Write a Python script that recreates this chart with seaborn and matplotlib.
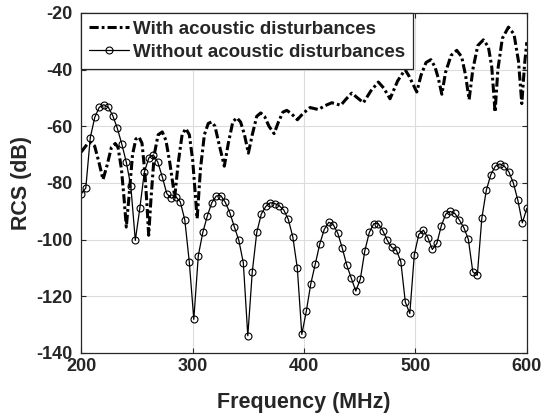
import numpy as np
import pandas as pd
import matplotlib
matplotlib.use("Agg")
import matplotlib.pyplot as plt
import seaborn as sns

# ---------------- data ----------------
# Series 1: with acoustic disturbances (dash-dot line)
dash_freq = [200, 203, 206, 209, 212, 216, 219.5, 223, 227, 230.5, 233, 236, 238.5, 240.4,
             243, 246, 249, 251.8, 254.5, 257, 259, 260.5, 262.5, 265.5, 269, 272.7, 276,
             279.5, 283.9, 287, 290.5, 293.8, 297, 300, 304, 307, 310.5, 314, 317.1, 320,
             323.5, 328.4, 332, 336, 339.6, 343, 346.5, 350, 353.5, 357.5, 361.1, 364.5,
             368.5, 373.1, 377, 381, 384.5, 388.5, 394, 399, 405.4, 412.8, 418.5, 424.9,
             433, 437.5, 442.8, 448, 453.3, 460, 466.7, 471.5, 477.2, 484, 490.7, 494.5,
             501.2, 505, 509.5, 513.8, 517.5, 520.5, 523.7, 527, 532, 537.1, 541.5, 545,
             548.2, 551.5, 556, 561, 565.5, 568.5, 571.5, 574, 578, 583.5, 588.5, 592.5,
             595.5, 598, 600]
dash_rcs = [-69.1, -67.5, -66.0, -65.8, -67.0, -73.0, -78.8, -74.0, -67.5, -66.1, -67.5, -75.0,
            -86.0, -95.6, -84.0, -70.0, -64.5, -63.8, -66.0, -76.0, -88.0, -98.5, -86.0, -70.0,
            -63.0, -62.0, -65.0, -73.0, -85.0, -73.0, -63.0, -60.8, -63.0, -72.0, -92.6, -75.0,
            -63.0, -59.0, -58.5, -60.0, -66.0, -74.1, -66.0, -58.5, -57.0, -58.5, -63.0, -69.5,
            -63.0, -56.5, -55.3, -56.5, -60.0, -62.6, -58.5, -55.0, -54.4, -55.5, -57.7, -55.5,
            -53.4, -54.1, -52.8, -51.7, -52.6, -50.5, -48.3, -50.0, -51.7, -47.5, -44.4, -46.5,
            -50.3, -44.0, -40.0, -42.5, -47.9, -42.0, -37.5, -36.5, -39.0, -43.0, -48.7, -41.0,
            -35.0, -33.2, -35.5, -42.0, -50.6, -40.0, -31.5, -29.5, -32.0, -39.0, -55.0, -40.0,
            -29.0, -25.0, -27.5, -37.0, -52.0, -38.0, -30.3]

# Series 2: without acoustic disturbances (circle markers), 100 samples 200..600 MHz
marker_rcs = [-83.9, -81.8, -64.0, -56.8, -53.3, -52.4, -53.3, -56.3, -60.7, -66.3,
              -72.7, -81.1, -100.3, -89.0, -76.3, -71.2, -70.1, -72.7, -77.9, -83.8,
              -85.4, -84.9, -86.7, -93.1, -108.0, -128.2, -105.7, -97.5, -91.7, -87.0,
              -84.6, -84.5, -86.9, -90.5, -95.5, -100.3, -108.2, -134.0, -111.3, -97.4,
              -91.0, -88.3, -87.0, -87.3, -88.1, -89.6, -92.9, -99.1, -110.1, -133.5,
              -125.3, -115.6, -108.6, -101.5, -96.4, -93.9, -94.8, -97.8, -103.1, -109.1,
              -113.7, -118.2, -114.0, -104.0, -97.5, -94.4, -94.4, -96.9, -100.3, -102.8,
              -103.7, -107.8, -122.1, -126.1, -105.3, -98.2, -96.7, -99.3, -103.5, -101.4,
              -95.1, -91.0, -90.1, -90.8, -93.1, -95.8, -99.9, -111.4, -112.6, -92.5,
              -82.6, -77.1, -74.1, -73.3, -74.1, -76.1, -80.0, -86.1, -94.1, -89.0]
marker_freq = np.linspace(200, 600, len(marker_rcs))

x_ticks = [200, 300, 400, 500, 600]
y_ticks = [-140, -120, -100, -80, -60, -40, -20]
label_with = "With acoustic disturbances"
label_without = "Without acoustic disturbances"

df_dash = pd.DataFrame({"Frequency": dash_freq, "RCS": dash_rcs})
df_mark = pd.DataFrame({"Frequency": marker_freq, "RCS": marker_rcs})

# ---------------- style ----------------
sns.set_style("ticks")
plt.rcParams["font.family"] = ["Liberation Sans", "DejaVu Sans"]
plt.rcParams["font.weight"] = "bold"
plt.rcParams["axes.labelweight"] = "bold"
plt.rcParams["axes.unicode_minus"] = False

fig = plt.figure(figsize=(5.42, 4.18), dpi=100)
ax = fig.add_axes([0.150, 0.156, 0.822, 0.813])

sns.lineplot(data=df_dash, x="Frequency", y="RCS", ax=ax, color="black",
             linewidth=2.2, label=label_with, estimator=None, sort=False)
ax.lines[-1].set_linestyle((0, (3.0, 1.0, 0.9, 1.0)))

sns.lineplot(data=df_mark, x="Frequency", y="RCS", ax=ax, color="black",
             linewidth=0.9, marker="o", markersize=5, markerfacecolor="none",
             markeredgecolor="black", markeredgewidth=0.8,
             label=label_without, estimator=None, sort=False)

ax.set_xlim(200, 600)
ax.set_ylim(-140, -20)
ax.set_xticks(x_ticks)
ax.set_yticks(y_ticks)
ax.grid(True, color="#dcdcdc", linewidth=0.8)
ax.set_axisbelow(True)
for s in ax.spines.values():
    s.set_visible(True)
    s.set_color("#262626")
    s.set_linewidth(0.9)
ax.tick_params(direction="in", length=3.5, width=0.8, top=True, right=True,
               colors="#262626", labelsize=13)
ax.tick_params(axis="x", pad=4)
ax.tick_params(axis="y", pad=6.5)
for t in ax.get_xticklabels() + ax.get_yticklabels():
    t.set_fontweight("bold")
    t.set_color("#262626")

ax.set_xlabel("Frequency (MHz)", fontsize=15.5, fontweight="bold", color="#262626", labelpad=12)
ax.set_ylabel("RCS (dB)", fontsize=15.5, fontweight="bold", color="#262626", labelpad=3)

leg = ax.legend(loc="upper left", borderaxespad=0.0, fancybox=False, framealpha=1,
                edgecolor="#262626", prop={"weight": "bold", "size": 13.5},
                handlelength=2.15, handletextpad=0.2, borderpad=0.42, labelspacing=0.3)
leg.get_frame().set_linewidth(0.9)

fig.savefig("out.png", dpi=100)
